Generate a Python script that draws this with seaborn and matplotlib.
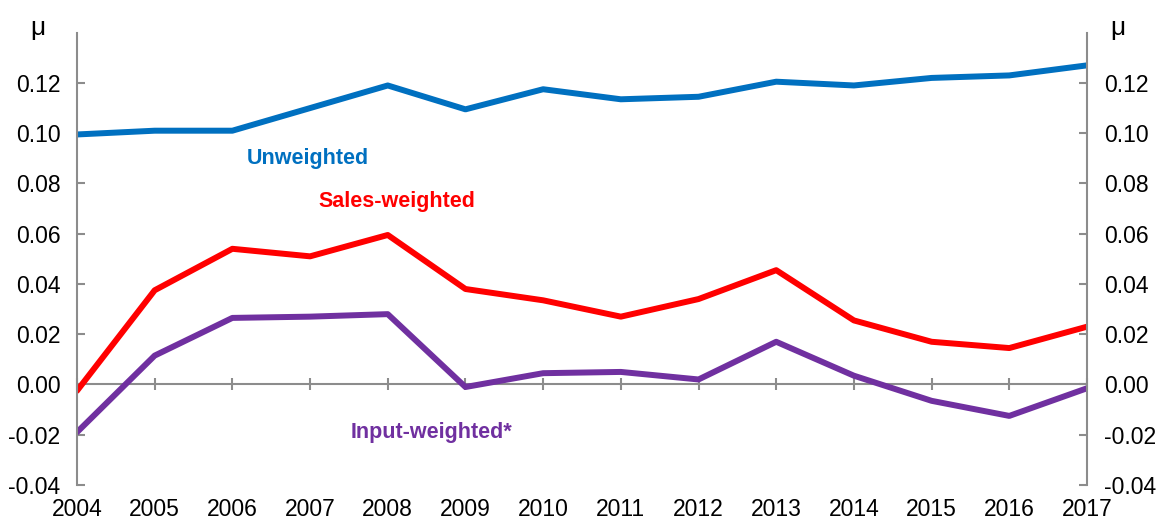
import numpy as np
import pandas as pd
import matplotlib
matplotlib.use("Agg")
import matplotlib.pyplot as plt
import seaborn as sns

sns.set_style("white")
plt.rcParams['font.family'] = ['Liberation Sans', 'DejaVu Sans']
plt.rcParams['text.color'] = 'black'
plt.rcParams['xtick.labelcolor'] = 'black'
plt.rcParams['ytick.labelcolor'] = 'black'

# data
years = list(range(2004, 2018))
unweighted = [0.0995, 0.101, 0.101, 0.110, 0.119, 0.1095, 0.1175, 0.1135, 0.1145, 0.1205, 0.119, 0.122, 0.123, 0.127]
sales_weighted = [-0.0025, 0.0375, 0.054, 0.051, 0.0595, 0.038, 0.0335, 0.027, 0.034, 0.0455, 0.0255, 0.017, 0.0145, 0.023]
input_weighted = [-0.019, 0.0115, 0.0265, 0.027, 0.028, -0.001, 0.0045, 0.005, 0.002, 0.017, 0.0035, -0.0065, -0.0125, -0.0015]
series_names = ["Unweighted", "Sales-weighted", "Input-weighted*"]
colors = ["#0070C0", "#FF0000", "#7030A0"]
y_ticks = [-0.04, -0.02, 0.00, 0.02, 0.04, 0.06, 0.08, 0.10, 0.12]

df = pd.DataFrame({
    "year": years * 3,
    "value": unweighted + sales_weighted + input_weighted,
    "series": [series_names[0]] * 14 + [series_names[1]] * 14 + [series_names[2]] * 14,
})

fig = plt.figure(figsize=(11.56, 5.19), dpi=100)
ax = fig.add_axes([0.0666, 0.0655, 0.8737, 0.8715])

sns.lineplot(data=df, x="year", y="value", hue="series", palette=colors,
             linewidth=4.3, ax=ax, legend=False)

ax.set_xlim(2004, 2017)
ax.set_ylim(-0.04, 0.14)
ax.set_xlabel("")
ax.set_ylabel("")

grey = "#8C8C8C"
for s in ["top", "bottom"]:
    ax.spines[s].set_visible(False)
for s in ["left", "right"]:
    ax.spines[s].set_color(grey)
    ax.spines[s].set_linewidth(1.5)

ax.set_yticks(y_ticks)
ax.set_yticklabels([f"{t:.2f}" for t in y_ticks])
ax.tick_params(axis="y", direction="in", length=6, width=1.5, color=grey,
               left=True, right=True, labelleft=True, labelright=True,
               labelsize=16.5, pad=12)

ax.set_xticks(years)
ax.set_xticklabels([str(y) for y in years])
ax.tick_params(axis="x", length=0, labelsize=16.5, pad=9)

# zero line with crossing ticks
ax.axhline(0, color=grey, linewidth=1.5, zorder=0)
sec = ax.secondary_xaxis((0 + 0.04) / 0.18)
sec.spines["bottom"].set_visible(False)
sec.set_xticks(years)
sec.tick_params(axis="x", direction="inout", length=9, width=1.5, color=grey, labelbottom=False)

# series labels
ax.text(2006.97, 0.090, "Unweighted", color=colors[0], fontsize=15.5, fontweight="bold", ha="center", va="center")
ax.text(2008.12, 0.0729, "Sales-weighted", color=colors[1], fontsize=15.5, fontweight="bold", ha="center", va="center")
ax.text(2008.56, -0.0191, "Input-weighted*", color=colors[2], fontsize=15.5, fontweight="bold", ha="center", va="center")

fig.text(38 / 1156, 1 - 28 / 519, "μ", fontsize=19, ha="center", va="center")
fig.text(1118 / 1156, 1 - 28 / 519, "μ", fontsize=19, ha="center", va="center")

fig.savefig("out.png", dpi=100)
